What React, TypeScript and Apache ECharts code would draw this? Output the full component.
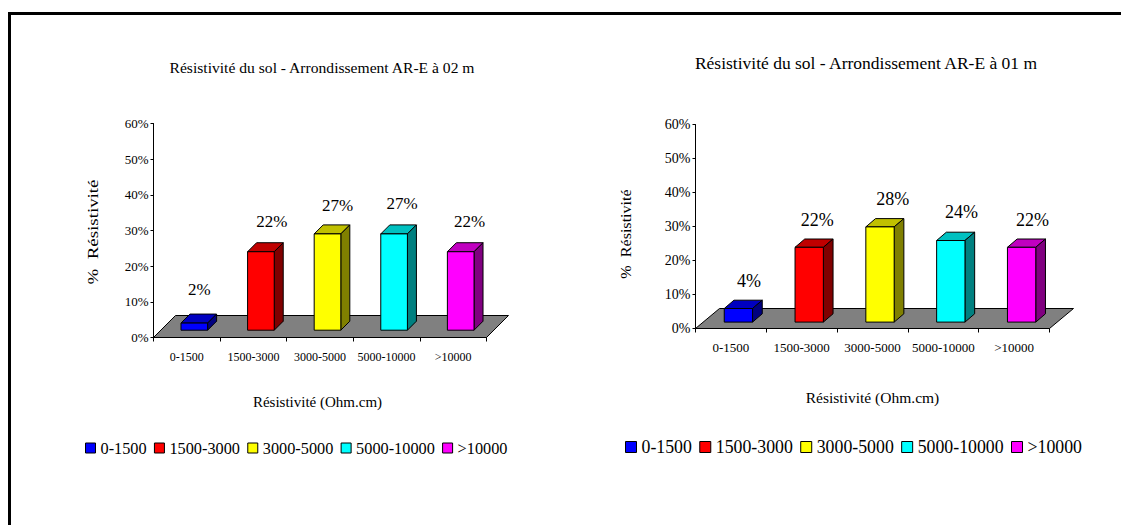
import React, { useEffect, useRef } from "react";
import * as echarts from "echarts";

const categories = ["0-1500", "1500-3000", "3000-5000", "5000-10000", ">10000"];
const yTicks = { min: 0, max: 60, interval: 10 };
const leftValues = [2, 22, 27, 27, 22];
const rightValues = [4, 22, 28, 24, 22];
const leftTitle = "Résistivité du sol - Arrondissement AR-E à 02 m";
const rightTitle = "Résistivité du sol - Arrondissement AR-E à 01 m";
const xName = "Résistivité (Ohm.cm)";
const yName = "%  Résistivité";
const frontColors = ["#0000ff", "#ff0000", "#ffff00", "#00ffff", "#ff00ff"];
const topColors = ["#0000c0", "#c00000", "#c0c000", "#00c0c0", "#c000c0"];
const sideColors = ["#000080", "#800000", "#808000", "#008080", "#800080"];

const FONT = '"Liberation Serif", "Times New Roman", serif';

type Panel = {
  grid: { left: number; top: number; width: number; height: number };
  values: number[];
  floorDx: number;
  floorDy: number;
  barDx: number;
  barDy: number;
  depthDx: number;
  depthDy: number;
  barRatio: number;
  labelFont: number;
  labelDx: number[];
  labelDy: number[];
};

const panels: Panel[] = [
  {
    grid: { left: 153.5, top: 123.5, width: 333, height: 214 },
    values: leftValues,
    floorDx: 22,
    floorDy: -22,
    barDx: 7.5,
    barDy: -7.3,
    depthDx: 9,
    depthDy: -9,
    barRatio: 0.4,
    labelFont: 17,
    labelDx: [5, 11, 10, 8, 9],
    labelDy: [-34, -30, -28, -30.5, -30.5],
  },
  {
    grid: { left: 695.5, top: 124.5, width: 354, height: 204 },
    values: rightValues,
    floorDx: 24,
    floorDy: -20,
    barDx: 7.5,
    barDy: -6.4,
    depthDx: 9.7,
    depthDy: -8.3,
    barRatio: 0.4,
    labelFont: 18,
    labelDx: [10.5, 8, 12.7, 10.7, 11],
    labelDy: [-27.5, -27, -28, -29, -27],
  },
];

function floorSeries(p: Panel, gridIndex: number) {
  return {
    type: "custom",
    silent: true,
    xAxisIndex: gridIndex,
    yAxisIndex: gridIndex,
    z: 2,
    data: [[0, 0]],
    renderItem: (_: any, api: any) => {
      const band = api.size([1, 0])[0];
      const o = api.coord([0, 0]);
      const x0 = o[0] - band / 2;
      const x1 = x0 + band * categories.length;
      const y0 = o[1];
      return {
        type: "polygon",
        shape: {
          points: [
            [x0, y0],
            [x1, y0],
            [x1 + p.floorDx, y0 + p.floorDy],
            [x0 + p.floorDx, y0 + p.floorDy],
          ],
        },
        style: { fill: "#808080", stroke: "#000", lineWidth: 1 },
      };
    },
  };
}

function barSeries(p: Panel, gridIndex: number, i: number) {
  return {
    type: "custom",
    name: categories[i],
    silent: true,
    xAxisIndex: gridIndex,
    yAxisIndex: gridIndex,
    z: 3,
    itemStyle: { color: frontColors[i], borderColor: "#000", borderWidth: 1 },
    data: [[i, p.values[i]]],
    encode: { x: 0, y: 1 },
    renderItem: (_: any, api: any) => {
      const band = api.size([1, 0])[0];
      const w = band * p.barRatio;
      const base = api.coord([api.value(0), 0]);
      const top = api.coord([api.value(0), api.value(1)]);
      const l = base[0] + p.barDx - w / 2;
      const r = l + w;
      const b = base[1] + p.barDy;
      const t = top[1] + p.barDy;
      const line = { stroke: "#000", lineWidth: 1 };
      return {
        type: "group",
        children: [
          {
            type: "polygon",
            shape: { points: [[l, t], [r, t], [r + p.depthDx, t + p.depthDy], [l + p.depthDx, t + p.depthDy]] },
            style: { fill: topColors[i], ...line },
          },
          {
            type: "polygon",
            shape: { points: [[r, t], [r + p.depthDx, t + p.depthDy], [r + p.depthDx, b + p.depthDy], [r, b]] },
            style: { fill: sideColors[i], ...line },
          },
          {
            type: "rect",
            shape: { x: l, y: t, width: w, height: b - t },
            style: { fill: frontColors[i], ...line },
          },
          {
            type: "text",
            style: {
              text: `${api.value(1)}%`,
              x: base[0] + p.barDx + p.labelDx[i],
              y: t + p.labelDy[i],
              align: "center",
              verticalAlign: "middle",
              fill: "#000",
              font: `${p.labelFont}px ${FONT}`,
            },
          },
        ],
      };
    },
  };
}

function buildOption() {
  const xAxisBase = (
    gridIndex: number,
    fontSize: number,
    margin: number,
    nameGap: number,
    nameFont: number,
    namePad: number[],
  ) => ({
    type: "category",
    gridIndex,
    data: categories,
    boundaryGap: true,
    name: xName,
    nameLocation: "middle",
    nameGap,
    nameTextStyle: { fontFamily: FONT, fontSize: nameFont, color: "#000", padding: namePad },
    axisLine: { show: true, lineStyle: { color: "#000", width: 1 } },
    axisTick: { show: true, length: 4, lineStyle: { color: "#000" } },
    axisLabel: { interval: 0, fontFamily: FONT, fontSize, color: "#000", margin },
    splitLine: { show: false },
  });
  const yAxisBase = (gridIndex: number, fontSize: number, margin: number) => ({
    type: "value",
    gridIndex,
    ...yTicks,
    axisLine: { show: true, lineStyle: { color: "#000", width: 1 } },
    axisTick: { show: true, length: 3, lineStyle: { color: "#000" } },
    axisLabel: {
      fontFamily: FONT,
      fontSize,
      color: "#000",
      margin,
      formatter: (v: number) => `${v}%`,
    },
    splitLine: { show: false },
  });
  const legendBase = (left: number, top: number, fontSize: number, size: number, gap: number) => ({
    left,
    top,
    padding: 0,
    orient: "horizontal",
    data: categories,
    icon: "rect",
    itemWidth: size,
    itemHeight: size,
    itemGap: gap,
    selectedMode: false,
    textStyle: { fontFamily: FONT, fontSize, color: "#000" },
    itemStyle: { borderColor: "#000", borderWidth: 1 },
  });
  return {
    animation: false,
    backgroundColor: "#fff",
    title: [
      {
        text: leftTitle,
        left: 317,
        top: 54.5,
        textAlign: "center",
        textStyle: { fontFamily: FONT, fontSize: 15.6, fontWeight: "normal", color: "#000" },
      },
      {
        text: rightTitle,
        left: 861,
        top: 48.5,
        textAlign: "center",
        textStyle: { fontFamily: FONT, fontSize: 17.5, fontWeight: "normal", color: "#000" },
      },
    ],
    grid: panels.map((p) => ({ ...p.grid, containLabel: false })),
    xAxis: [xAxisBase(0, 12, 13, 57, 15, [0, 5, 0, 0]), xAxisBase(1, 13, 12, 61, 15.5, [0, 0, 0, 0])],
    yAxis: [yAxisBase(0, 13, 5), yAxisBase(1, 14, 5)],
    legend: [legendBase(85, 440, 16.3, 10, 7.3), legendBase(625, 438, 17.8, 11, 7.4)],
    graphic: [
      { type: "rect", silent: true, shape: { x: 8, y: 12, width: 1113, height: 3 }, style: { fill: "#000" } },
      { type: "rect", silent: true, shape: { x: 8, y: 12, width: 3, height: 513 }, style: { fill: "#000" } },
      {
        type: "text",
        silent: true,
        x: 93,
        y: 232,
        rotation: Math.PI / 2,
        scaleX: 1.35,
        style: { text: yName, align: "center", verticalAlign: "middle", fill: "#000", font: `14px ${FONT}` },
      },
      {
        type: "text",
        silent: true,
        x: 626,
        y: 234,
        rotation: Math.PI / 2,
        scaleX: 1.15,
        style: { text: yName, align: "center", verticalAlign: "middle", fill: "#000", font: `14px ${FONT}` },
      },
    ],
    series: panels.flatMap((p, g) => [floorSeries(p, g), ...categories.map((_, i) => barSeries(p, g, i))]),
  };
}

export default function App() {
  const ref = useRef<HTMLDivElement>(null);
  useEffect(() => {
    document.body.style.margin = "0";
    const chart = echarts.init(ref.current!, undefined, { renderer: "svg" });
    chart.setOption(buildOption() as any);
    return () => chart.dispose();
  }, []);
  return <div ref={ref} style={{ width: 1121, height: 525, overflow: "hidden" }} />;
}
